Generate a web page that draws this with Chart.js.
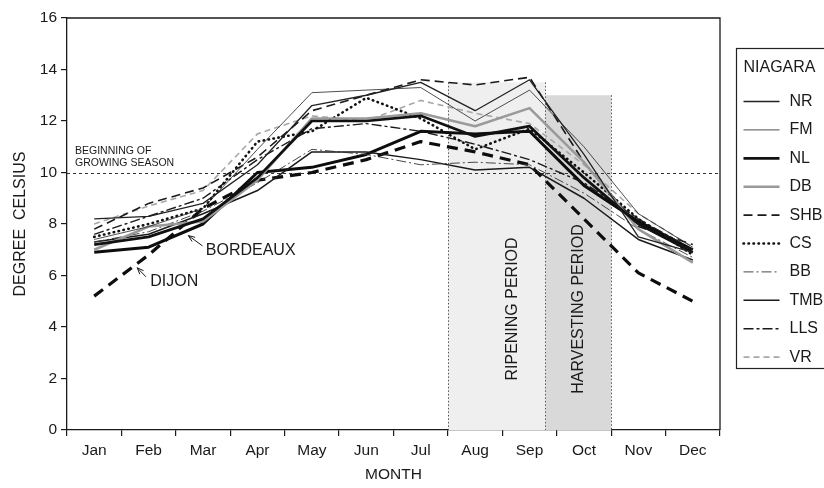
<!DOCTYPE html>
<html>
<head>
<meta charset="utf-8">
<script src="https://cdn.jsdelivr.net/npm/chart.js@4/dist/chart.umd.min.js"></script>
<style>
  html, body { margin: 0; padding: 0; background: #fff; }
  #c { display: block; }
</style>
</head>
<body>
<canvas id="c" width="824" height="488"></canvas>
<script>
// Monthly mean temperatures (°C), Niagara sites compared with Bordeaux and Dijon
const months = ['Jan', 'Feb', 'Mar', 'Apr', 'May', 'Jun', 'Jul', 'Aug', 'Sep', 'Oct', 'Nov', 'Dec'];
const yTicks = [0, 2, 4, 6, 8, 10, 12, 14, 16];

const nr  = [8.2, 8.3, 8.8, 10.3, 12.6, 13.0, 13.5, 12.4, 13.6, 10.7, 7.5, 6.9];
const fm  = [7.4, 7.9, 8.6, 10.9, 13.1, 13.2, 13.3, 12.0, 13.2, 11.0, 8.4, 7.1];
const nl  = [7.2, 7.5, 8.2, 9.8, 12.0, 12.0, 12.2, 11.4, 11.8, 9.8, 8.0, 6.9];
const db  = [7.0, 7.9, 8.1, 9.7, 12.1, 12.1, 12.3, 11.8, 12.5, 10.4, 7.8, 6.5];
const shb = [7.8, 8.8, 9.4, 10.6, 12.4, 13.0, 13.6, 13.4, 13.7, 10.4, 7.9, 7.2];
const cs  = [7.5, 8.0, 8.6, 11.2, 11.6, 12.9, 12.1, 10.9, 11.7, 10.0, 8.2, 6.8];
const bb  = [7.3, 7.7, 8.5, 9.6, 10.9, 10.7, 10.3, 10.4, 10.3, 9.2, 7.8, 6.7];
const tmb = [7.3, 7.6, 8.4, 9.3, 10.8, 10.8, 10.5, 10.1, 10.2, 9.0, 7.4, 6.6];
const lls = [7.6, 8.3, 9.0, 10.5, 11.7, 11.9, 11.6, 11.1, 10.5, 9.6, 8.2, 7.0];
const vr  = [8.0, 8.7, 9.3, 11.5, 12.2, 12.0, 12.8, 12.3, 11.9, 10.3, 8.4, 7.1];
const bordeaux = [6.9, 7.1, 8.0, 10.0, 10.2, 10.7, 11.6, 11.5, 11.6, 9.5, 8.1, 7.0];
const dijon    = [5.2, 6.8, 8.6, 9.7, 10.0, 10.5, 11.2, 10.8, 10.3, 8.2, 6.1, 5.0];

// Reference levels and periods, in axis units (month index, °C)
const growingStart = 10;
const ripening = { from: 6.5, to: 8.29, top: 13.5 };
const harvest  = { from: 8.29, to: 9.5, top: 13.0 };

const FONT = '"Liberation Sans", Arial, Helvetica, sans-serif';
const INK = '#1a1a1a';

function series(label, data, color, width, dash, cap) {
  return {
    label, data,
    borderColor: color, backgroundColor: color,
    borderWidth: width, borderDash: dash || [],
    borderCapStyle: cap || 'butt', borderJoinStyle: 'round',
    pointRadius: 0, tension: 0, fill: false
  };
}

const datasets = [
  series('NR',  nr,  '#222', 1.3),
  series('FM',  fm,  '#222', 0.8),
  series('NL',  nl,  '#111', 2.7),
  series('DB',  db,  '#9a9a9a', 2.6),
  series('SHB', shb, '#1a1a1a', 1.6, [9, 5]),
  series('CS',  cs,  '#111', 2.6, [0.5, 4.5], 'round'),
  series('BB',  bb,  '#333', 0.9, [10, 3, 2, 3]),
  series('TMB', tmb, '#1a1a1a', 1.5),
  series('LLS', lls, '#1a1a1a', 1.4, [10, 3, 3, 3]),
  series('VR',  vr,  '#a8a8a8', 1.6, [6, 4]),
  series('BORDEAUX', bordeaux, '#0d0d0d', 3.0),
  series('DIJON', dijon, '#0d0d0d', 3.2, [11, 7])
];

const niagaraCount = 10;

function arrow(ctx, x0, y0, x1, y1) {
  ctx.beginPath();
  ctx.moveTo(x0, y0);
  ctx.lineTo(x1, y1);
  ctx.stroke();
  const ang = Math.atan2(y1 - y0, x1 - x0);
  const L = 7, W = 0.38;
  ctx.beginPath();
  ctx.moveTo(x1, y1);
  ctx.lineTo(x1 - L * Math.cos(ang - W), y1 - L * Math.sin(ang - W));
  ctx.moveTo(x1, y1);
  ctx.lineTo(x1 - L * Math.cos(ang + W), y1 - L * Math.sin(ang + W));
  ctx.stroke();
}

// Shaded periods, growing-season threshold and their labels, under the lines
const backdrop = {
  id: 'backdrop',
  beforeDatasetsDraw(chart) {
    const { ctx, chartArea: a, scales: { x, y } } = chart;
    const r0 = x.getPixelForValue(ripening.from), r1 = x.getPixelForValue(ripening.to);
    const h0 = x.getPixelForValue(harvest.from), h1 = x.getPixelForValue(harvest.to);
    const rt = y.getPixelForValue(ripening.top), ht = y.getPixelForValue(harvest.top);
    ctx.save();
    ctx.fillStyle = '#efefef';
    ctx.fillRect(r0, rt, r1 - r0, a.bottom - rt);
    ctx.fillStyle = '#d9d9d9';
    ctx.fillRect(h0, ht, h1 - h0, a.bottom - ht);

    ctx.strokeStyle = '#555';
    ctx.lineWidth = 1;
    ctx.setLineDash([1.5, 2]);
    [[r0, rt], [r1, Math.min(rt, ht)], [h1, ht]].forEach(([px, top]) => {
      ctx.beginPath();
      ctx.moveTo(Math.round(px) + 0.5, top);
      ctx.lineTo(Math.round(px) + 0.5, a.bottom);
      ctx.stroke();
    });

    const yg = Math.round(y.getPixelForValue(growingStart)) + 0.5;
    ctx.strokeStyle = '#333';
    ctx.setLineDash([3, 3]);
    ctx.beginPath();
    ctx.moveTo(a.left, yg);
    ctx.lineTo(a.right, yg);
    ctx.stroke();
    ctx.setLineDash([]);

    ctx.fillStyle = INK;
    ctx.font = '10.5px ' + FONT;
    ctx.textAlign = 'left';
    ctx.textBaseline = 'alphabetic';
    ctx.fillText('BEGINNING OF', a.left + 8, yg - 20);
    ctx.fillText('GROWING SEASON', a.left + 8, yg - 8);

    ctx.font = '16px ' + FONT;
    ctx.textAlign = 'center';
    ctx.textBaseline = 'middle';
    const yc = y.getPixelForValue(4.7);
    [[x.getPixelForValue(7.68), 'RIPENING PERIOD'],
     [(h0 + h1) / 2, 'HARVESTING PERIOD']].forEach(([px, t]) => {
      ctx.save();
      ctx.translate(px, yc);
      ctx.rotate(-Math.PI / 2);
      ctx.fillText(t, 0, 0);
      ctx.restore();
    });
    ctx.restore();
  },
  afterDraw(chart) {
    const { ctx, chartArea: a, scales: { x, y } } = chart;
    ctx.save();
    // frame: top and right edges
    ctx.strokeStyle = INK;
    ctx.lineWidth = 1.3;
    ctx.beginPath();
    ctx.moveTo(a.left, a.top);
    ctx.lineTo(a.right, a.top);
    ctx.lineTo(a.right, a.bottom);
    ctx.stroke();

    // site labels with pointers
    ctx.fillStyle = INK;
    ctx.font = '16px ' + FONT;
    ctx.textAlign = 'left';
    ctx.textBaseline = 'middle';
    ctx.fillText('BORDEAUX', x.getPixelForValue(2.05), y.getPixelForValue(6.95));
    ctx.fillText('DIJON', x.getPixelForValue(1.03), y.getPixelForValue(5.75));
    ctx.lineWidth = 1;
    arrow(ctx, x.getPixelForValue(1.99), y.getPixelForValue(7.15), x.getPixelForValue(1.73), y.getPixelForValue(7.55));
    arrow(ctx, x.getPixelForValue(0.95), y.getPixelForValue(5.95), x.getPixelForValue(0.79), y.getPixelForValue(6.3));

    // Niagara legend box
    const bx = a.right + 16.5, by = 48.5, bh = 320;
    ctx.strokeStyle = '#222';
    ctx.lineWidth = 1.2;
    ctx.strokeRect(bx, by, 120, bh);
    ctx.fillText('NIAGARA', bx + 7, by + 19);
    const ds = chart.data.datasets;
    for (let i = 0; i < niagaraCount; i++) {
      const d = ds[i];
      const ly = by + 53 + i * 28.4;
      ctx.save();
      ctx.strokeStyle = d.borderColor;
      ctx.lineWidth = d.borderWidth;
      ctx.setLineDash(d.borderDash || []);
      ctx.lineCap = d.borderCapStyle || 'butt';
      ctx.beginPath();
      ctx.moveTo(bx + 7, ly);
      ctx.lineTo(bx + 43, ly);
      ctx.stroke();
      ctx.restore();
      ctx.fillText(d.label, bx + 53, ly);
    }
    ctx.restore();
  }
};

new Chart(document.getElementById('c'), {
  type: 'line',
  data: { labels: months, datasets },
  options: {
    responsive: false,
    animation: false,
    devicePixelRatio: 1,
    layout: { padding: { top: 18, right: 104, left: 0, bottom: 0 } },
    plugins: { legend: { display: false }, tooltip: { enabled: false } },
    scales: {
      x: {
        type: 'category',
        offset: true,
        grid: { offset: true, drawOnChartArea: false, drawTicks: true, tickLength: 6, color: INK, lineWidth: 1.2 },
        border: { display: true, color: INK, width: 1.3 },
        ticks: { color: INK, font: { size: 15.5, family: FONT }, padding: 5, maxRotation: 0, autoSkip: false },
        title: { display: true, text: 'MONTH', color: INK, font: { size: 15.5, family: FONT }, padding: { top: 0, bottom: 4 } },
        afterFit(s) { s.height = 58; }
      },
      y: {
        min: 0, max: 16,
        afterBuildTicks(s) { s.ticks = yTicks.map(v => ({ value: v })); },
        grid: { drawOnChartArea: false, drawTicks: true, tickLength: 6, color: INK, lineWidth: 1.2 },
        border: { display: true, color: INK, width: 1.3 },
        ticks: { color: INK, font: { size: 15.5, family: FONT }, padding: 4 },
        title: { display: true, text: 'DEGREE  CELSIUS', color: INK, font: { size: 16, family: FONT }, padding: { top: 11, bottom: 0 } },
        afterFit(s) { s.width = 67; }
      }
    }
  },
  plugins: [backdrop]
});
</script>
</body>
</html>
